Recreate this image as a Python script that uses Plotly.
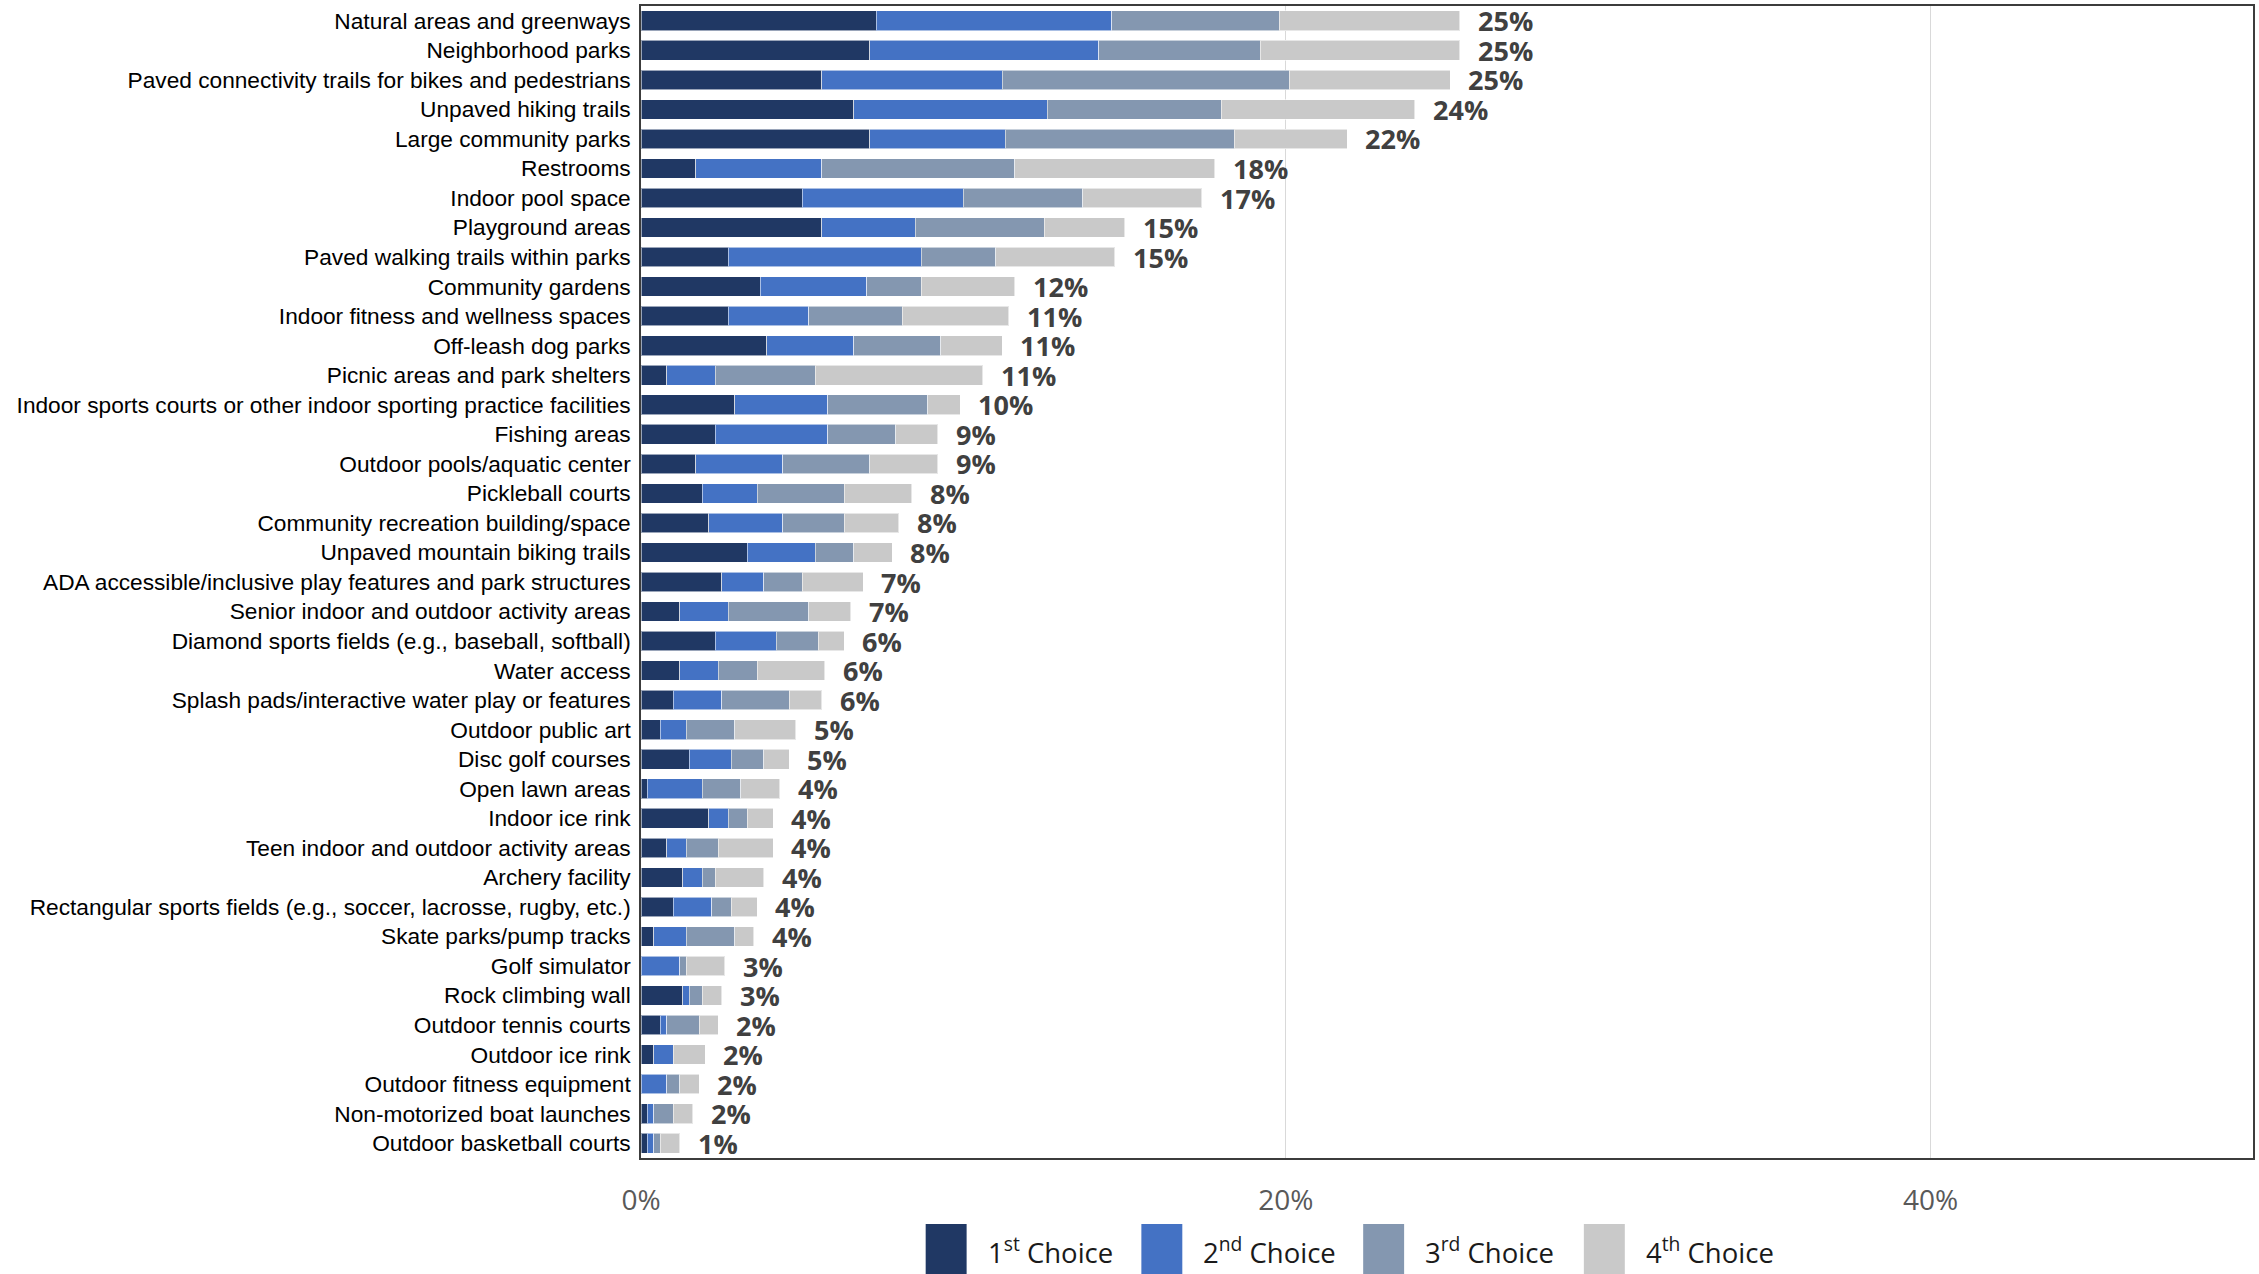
import plotly.graph_objects as go

categories = [
    "Natural areas and greenways",
    "Neighborhood parks",
    "Paved connectivity trails for bikes and pedestrians",
    "Unpaved hiking trails",
    "Large community parks",
    "Restrooms",
    "Indoor pool space",
    "Playground areas",
    "Paved walking trails within parks",
    "Community gardens",
    "Indoor fitness and wellness spaces",
    "Off-leash dog parks",
    "Picnic areas and park shelters",
    "Indoor sports courts or other indoor sporting practice facilities",
    "Fishing areas",
    "Outdoor pools/aquatic center",
    "Pickleball courts",
    "Community recreation building/space",
    "Unpaved mountain biking trails",
    "ADA accessible/inclusive play features and park structures",
    "Senior indoor and outdoor activity areas",
    "Diamond sports fields (e.g., baseball, softball)",
    "Water access",
    "Splash pads/interactive water play or features",
    "Outdoor public art",
    "Disc golf courses",
    "Open lawn areas",
    "Indoor ice rink",
    "Teen indoor and outdoor activity areas",
    "Archery facility",
    "Rectangular sports fields (e.g., soccer, lacrosse, rugby, etc.)",
    "Skate parks/pump tracks",
    "Golf simulator",
    "Rock climbing wall",
    "Outdoor tennis courts",
    "Outdoor ice rink",
    "Outdoor fitness equipment",
    "Non-motorized boat launches",
    "Outdoor basketball courts",
]

first_choice = [7.3, 7.1, 5.6, 6.6, 7.1, 1.7, 5.0, 5.6, 2.7, 3.7, 2.7, 3.9, 0.8, 2.9, 2.3, 1.7, 1.9, 2.1, 3.3, 2.5,
                1.2, 2.3, 1.2, 1.0, 0.6, 1.5, 0.2, 2.1, 0.8, 1.3, 1.0, 0.4, 0.0, 1.3, 0.6, 0.4, 0.0, 0.2, 0.2]
second_choice = [7.3, 7.1, 5.6, 6.0, 4.2, 3.9, 5.0, 2.9, 6.0, 3.3, 2.5, 2.7, 1.5, 2.9, 3.5, 2.7, 1.7, 2.3, 2.1, 1.3,
                 1.5, 1.9, 1.2, 1.5, 0.8, 1.3, 1.7, 0.6, 0.6, 0.6, 1.2, 1.0, 1.2, 0.2, 0.2, 0.6, 0.8, 0.2, 0.2]
third_choice = [5.2, 5.0, 8.9, 5.4, 7.1, 6.0, 3.7, 4.0, 2.3, 1.7, 2.9, 2.7, 3.1, 3.1, 2.1, 2.7, 2.7, 1.9, 1.2, 1.2,
                2.5, 1.3, 1.2, 2.1, 1.5, 1.0, 1.2, 0.6, 1.0, 0.4, 0.6, 1.5, 0.2, 0.4, 1.0, 0.0, 0.4, 0.6, 0.2]
fourth_choice = [5.6, 6.2, 5.0, 6.0, 3.5, 6.2, 3.7, 2.5, 3.7, 2.9, 3.3, 1.9, 5.2, 1.0, 1.3, 2.1, 2.1, 1.7, 1.2, 1.9,
                 1.3, 0.8, 2.1, 1.0, 1.9, 0.8, 1.2, 0.8, 1.7, 1.5, 0.8, 0.6, 1.2, 0.6, 0.6, 1.0, 0.6, 0.6, 0.6]

total_labels = ["25%", "25%", "25%", "24%", "22%", "18%", "17%", "15%", "15%", "12%", "11%", "11%", "11%",
                "10%", "9%", "9%", "8%", "8%", "8%", "7%", "7%", "6%", "6%", "6%", "5%", "5%", "4%", "4%",
                "4%", "4%", "4%", "4%", "3%", "3%", "2%", "2%", "2%", "2%", "1%"]

series_names = ["1<sup>st</sup> Choice", "2<sup>nd</sup> Choice", "3<sup>rd</sup> Choice", "4<sup>th</sup> Choice"]
series_values = [first_choice, second_choice, third_choice, fourth_choice]
colors = ["#203864", "#4472C4", "#8497B0", "#C9C9C9"]

x_ticks = [0, 20, 40]
x_tick_labels = ["0%", "20%", "40%"]

fig = go.Figure()
for name, vals, col in zip(series_names, series_values, colors):
    fig.add_trace(go.Bar(
        y=categories, x=vals, name=name, orientation="h",
        marker=dict(color=col, line=dict(color="rgba(255,255,255,0.55)", width=1)),
        showlegend=False,
    ))

totals = [a + b + c + d for a, b, c, d in zip(*series_values)]
for cat, tot, lab in zip(categories, totals, total_labels):
    fig.add_annotation(
        x=tot, y=cat, text=lab, showarrow=False, xanchor="left", xshift=16,
        font=dict(family="Open Sans", size=27, color="#404040", weight="bold"),
    )

# hand-made legend below the axis (big square swatches)
legend_x = [0.1766, 0.3104, 0.448, 0.5849]
for name, col, lx in zip(series_names, colors, legend_x):
    fig.add_shape(type="rect", xref="paper", yref="paper",
                  x0=lx, x1=lx + 0.0254, y0=-0.0573, y1=-0.125,
                  fillcolor=col, line=dict(width=0))
    fig.add_annotation(xref="paper", yref="paper", x=lx + 0.0372, y=-0.0807,
                       xanchor="left", yanchor="middle", showarrow=False, text=name,
                       font=dict(family="Open Sans", size=27.5, color="#1a1a1a"))

fig.update_layout(
    width=2259, height=1274,
    barmode="stack", bargap=0.335,
    plot_bgcolor="white", paper_bgcolor="white",
    margin=dict(l=641, r=4, t=4, b=116),
    font=dict(family="Liberation Sans, Arial", color="black"),
    xaxis=dict(
        range=[0, 50], tickvals=x_ticks, ticktext=x_tick_labels,
        showgrid=True, gridcolor="#D9D9D9", gridwidth=1, zeroline=False,
        showline=True, linecolor="#3c3c3c", linewidth=1.5, mirror=True,
        tickfont=dict(family="Open Sans", size=28, color="#595959"),
        ticklabelstandoff=17,
    ),
    yaxis=dict(
        range=[len(categories) - 0.5, -0.5], showgrid=False,
        showline=True, linecolor="#3c3c3c", linewidth=1.5, mirror=True,
        tickfont=dict(family="Liberation Sans, Arial", size=22.7, color="black"),
        ticklabelstandoff=4,
    ),
)

fig.write_html("out.html", config={"displayModeBar": False},
               post_script="document.body.style.margin='0';")
